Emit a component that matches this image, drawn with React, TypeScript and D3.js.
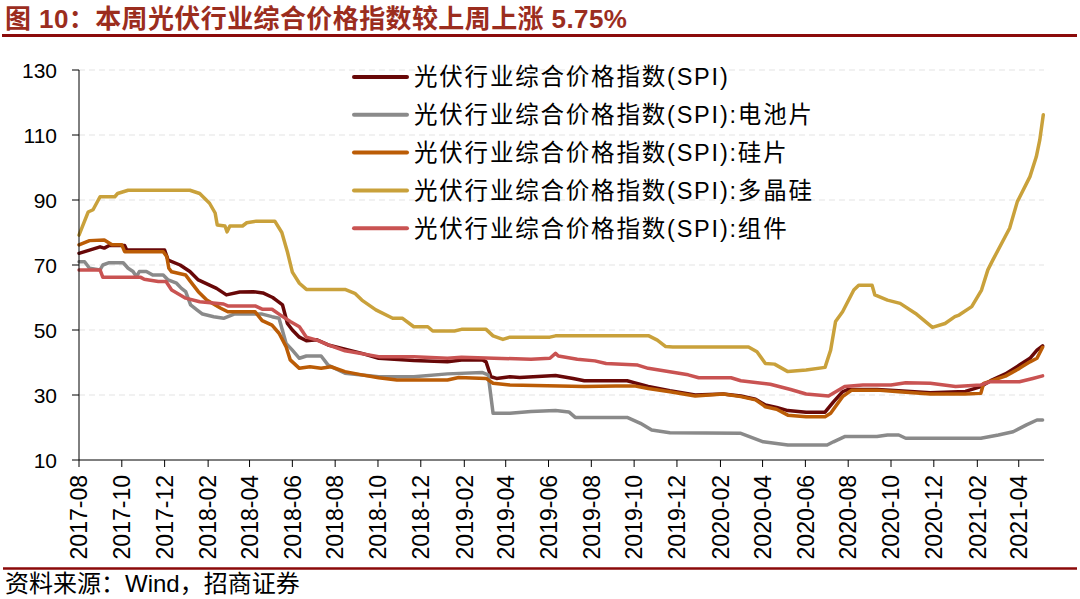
import * as d3 from 'd3'

// 光伏行业综合价格指数(SPI) — values, [date, value]
const spiData: [string, number][] = [
  ['2017-08-01', 73.6], ['2017-08-16', 74.6], ['2017-08-31', 75.6], ['2017-09-06', 75.2], ['2017-09-13', 76],
  ['2017-10-05', 76], ['2017-10-08', 74.6], ['2017-12-01', 74.6], ['2017-12-06', 71.5], ['2017-12-23', 70],
  ['2018-01-06', 68], ['2018-01-18', 65.4], ['2018-02-03', 63.8], ['2018-02-13', 62.8], ['2018-02-27', 60.8],
  ['2018-03-18', 61.7], ['2018-04-06', 61.8], ['2018-04-20', 61.4], ['2018-05-04', 60], ['2018-05-09', 59.2],
  ['2018-05-18', 57.7], ['2018-05-25', 52], ['2018-06-01', 50], ['2018-06-11', 47.8], ['2018-06-21', 46.7],
  ['2018-07-06', 47], ['2018-07-22', 45.4], ['2018-08-15', 44.1], ['2018-09-08', 42.8], ['2018-10-02', 41.3],
  ['2018-11-21', 40.6], ['2019-01-08', 40.2], ['2019-01-28', 40.8], ['2019-02-27', 40.8], ['2019-03-04', 40.2],
  ['2019-03-11', 35.6], ['2019-03-19', 35.1], ['2019-04-07', 35.6], ['2019-04-21', 35.4], ['2019-06-11', 36],
  ['2019-07-06', 35.1], ['2019-07-22', 34.4], ['2019-09-21', 34.4], ['2019-10-01', 33.8], ['2019-10-21', 32.6],
  ['2019-11-21', 31.3], ['2019-12-27', 30], ['2020-02-05', 30.3], ['2020-03-01', 29.7], ['2020-03-22', 28.7],
  ['2020-04-05', 26.9], ['2020-04-21', 26.2], ['2020-05-07', 25.2], ['2020-06-02', 24.7], ['2020-06-29', 24.7],
  ['2020-07-11', 27.9], ['2020-07-24', 31], ['2020-08-01', 31.7], ['2020-09-11', 31.7], ['2020-10-12', 31.3],
  ['2020-11-26', 30.7], ['2021-01-15', 31.1], ['2021-02-06', 32.6], ['2021-02-20', 34.4], ['2021-03-13', 36.5],
  ['2021-04-02', 39.2], ['2021-04-17', 41.3], ['2021-04-27', 43.8], ['2021-05-05', 45.1],
]

// 电池片
const cellData: [string, number][] = [
  ['2017-08-01', 71], ['2017-08-09', 71], ['2017-08-16', 69], ['2017-08-31', 68.5], ['2017-09-04', 70],
  ['2017-09-13', 70.7], ['2017-10-03', 70.7], ['2017-10-10', 69], ['2017-10-17', 68], ['2017-10-22', 66.4],
  ['2017-10-26', 68], ['2017-11-05', 68], ['2017-11-14', 66.9], ['2017-11-29', 66.9], ['2017-12-06', 65.4],
  ['2017-12-18', 64.4], ['2017-12-25', 62.8], ['2017-12-31', 61.8], ['2018-01-07', 57.7], ['2018-01-16', 56.2],
  ['2018-01-24', 54.9], ['2018-02-09', 54.1], ['2018-02-23', 53.6], ['2018-03-10', 54.9], ['2018-04-19', 54.9],
  ['2018-05-03', 54.1], ['2018-05-13', 53.6], ['2018-05-23', 45.9], ['2018-06-01', 43.8], ['2018-06-11', 41.3],
  ['2018-06-21', 42], ['2018-07-12', 42], ['2018-07-22', 39.2], ['2018-08-15', 36.7], ['2018-10-02', 35.6],
  ['2018-11-21', 35.6], ['2019-01-08', 36.5], ['2019-02-27', 36.9], ['2019-03-07', 36.2], ['2019-03-14', 24.4],
  ['2019-04-07', 24.4], ['2019-05-07', 24.9], ['2019-06-11', 25.2], ['2019-06-30', 24.8], ['2019-07-09', 23.1],
  ['2019-09-21', 23.1], ['2019-10-10', 21.3], ['2019-10-26', 19.2], ['2019-11-21', 18.4], ['2020-03-01', 18.2],
  ['2020-04-02', 15.6], ['2020-05-07', 14.6], ['2020-07-02', 14.6], ['2020-07-11', 15.6], ['2020-07-27', 17.2],
  ['2020-09-11', 17.2], ['2020-09-26', 17.7], ['2020-10-12', 17.7], ['2020-10-22', 16.7], ['2021-02-06', 16.7],
  ['2021-03-03', 17.7], ['2021-03-24', 18.7], ['2021-04-12', 20.8], ['2021-04-27', 22.3], ['2021-05-05', 22.3],
]

// 硅片
const waferData: [string, number][] = [
  ['2017-08-01', 76.2], ['2017-08-16', 77.5], ['2017-09-06', 77.7], ['2017-09-17', 76.2], ['2017-10-01', 76.2],
  ['2017-10-05', 74.1], ['2017-11-29', 74.1], ['2017-12-04', 72.6], ['2017-12-07', 69], ['2017-12-11', 67.9],
  ['2017-12-31', 66.9], ['2018-01-07', 64.9], ['2018-01-18', 61.8], ['2018-01-30', 59.2], ['2018-02-19', 56.7],
  ['2018-03-01', 55.6], ['2018-04-09', 55.6], ['2018-04-19', 52.9], ['2018-05-03', 51.5], ['2018-05-13', 49],
  ['2018-05-23', 44.9], ['2018-05-29', 40.8], ['2018-06-11', 38.2], ['2018-06-26', 38.7], ['2018-07-12', 38.2],
  ['2018-07-26', 38.7], ['2018-08-15', 37.2], ['2018-09-08', 36.2], ['2018-10-02', 35.3], ['2018-10-28', 34.6],
  ['2019-01-08', 34.6], ['2019-01-24', 35.4], ['2019-03-04', 35.1], ['2019-03-14', 33.6], ['2019-04-07', 33.1],
  ['2019-07-22', 32.6], ['2019-09-05', 32.8], ['2019-10-01', 32.8], ['2019-10-21', 32], ['2019-11-21', 31],
  ['2019-12-27', 29.7], ['2020-02-05', 30.3], ['2020-03-01', 29.5], ['2020-03-22', 28.5], ['2020-04-05', 26.4],
  ['2020-04-21', 25.6], ['2020-05-07', 23.8], ['2020-06-02', 23.3], ['2020-06-29', 23.3], ['2020-07-07', 24.4],
  ['2020-07-24', 29.5], ['2020-08-06', 31.5], ['2020-09-11', 31.5], ['2020-10-12', 31], ['2020-11-26', 30.3],
  ['2021-01-15', 30.3], ['2021-02-06', 30.5], ['2021-02-10', 33.6], ['2021-03-13', 35.8], ['2021-04-02', 38.2],
  ['2021-04-17', 40.2], ['2021-04-27', 41.3], ['2021-05-05', 44.7],
]

// 多晶硅
const polyData: [string, number][] = [
  ['2017-08-01', 79.2], ['2017-08-14', 86.3], ['2017-08-21', 87], ['2017-08-31', 91], ['2017-09-21', 91],
  ['2017-09-25', 92], ['2017-10-10', 93], ['2018-01-06', 93], ['2018-01-20', 92], ['2018-02-03', 89],
  ['2018-02-11', 86], ['2018-02-14', 82.3], ['2018-02-25', 82], ['2018-02-28', 80.2], ['2018-03-04', 82],
  ['2018-03-22', 82], ['2018-03-28', 83], ['2018-04-11', 83.5], ['2018-05-07', 83.5], ['2018-05-17', 80],
  ['2018-05-25', 74], ['2018-06-01', 67.8], ['2018-06-11', 64.4], ['2018-06-21', 62.5], ['2018-08-15', 62.5],
  ['2018-08-29', 61.3], ['2018-09-08', 59.2], ['2018-09-28', 56.2], ['2018-10-22', 53.6], ['2018-11-05', 53.6],
  ['2018-11-21', 51], ['2018-12-11', 51], ['2018-12-18', 49.7], ['2019-01-18', 49.7], ['2019-01-28', 50.2],
  ['2019-03-04', 50.2], ['2019-03-14', 48.2], ['2019-03-28', 47.1], ['2019-04-07', 47.8], ['2019-06-03', 47.8],
  ['2019-06-11', 48.2], ['2019-10-22', 48.2], ['2019-11-03', 46.9], ['2019-11-15', 44.9], ['2019-11-25', 44.8],
  ['2020-03-12', 44.8], ['2020-03-24', 43.3], ['2020-04-05', 39.7], ['2020-04-18', 39.5], ['2020-05-07', 37.2],
  ['2020-06-02', 37.7], ['2020-06-29', 38.5], ['2020-07-07', 43.8], ['2020-07-14', 52.6], ['2020-07-24', 55.6],
  ['2020-08-09', 62.3], ['2020-08-16', 63.8], ['2020-09-04', 63.8], ['2020-09-08', 60.8], ['2020-09-26', 59.2],
  ['2020-10-14', 58.2], ['2020-11-05', 55.1], ['2020-11-29', 50.8], ['2020-12-17', 52], ['2020-12-31', 54.1],
  ['2021-01-06', 54.6], ['2021-01-24', 57.2], ['2021-02-07', 62.3], ['2021-02-16', 68.5], ['2021-02-23', 71.5],
  ['2021-03-19', 81.3], ['2021-03-30', 89.5], ['2021-04-17', 97.2], ['2021-04-26', 103.3], ['2021-05-01', 108.5],
  ['2021-05-06', 116.2],
]

// 组件
const moduleData: [string, number][] = [
  ['2017-08-01', 68.5], ['2017-08-31', 68.5], ['2017-09-04', 66.2], ['2017-10-28', 66.2], ['2017-11-02', 65.6],
  ['2017-11-22', 64.9], ['2017-12-03', 64.9], ['2017-12-11', 62.3], ['2017-12-31', 59.8], ['2018-01-20', 58.7],
  ['2018-02-23', 58], ['2018-03-01', 57.4], ['2018-04-09', 57.4], ['2018-04-19', 56.4], ['2018-05-03', 56.4],
  ['2018-05-13', 54.9], ['2018-05-29', 52.6], ['2018-06-11', 51], ['2018-06-21', 47.8], ['2018-07-06', 46.9],
  ['2018-07-22', 45.4], ['2018-08-15', 43.6], ['2018-10-02', 41.8], ['2018-11-21', 41.8], ['2019-01-08', 41.3],
  ['2019-01-28', 41.6], ['2019-05-07', 41], ['2019-06-03', 41.3], ['2019-06-11', 42.8], ['2019-06-15', 42],
  ['2019-07-12', 41], ['2019-08-06', 40.5], ['2019-08-22', 39.7], ['2019-10-06', 39.2], ['2019-10-21', 38.2],
  ['2019-12-17', 36.2], ['2020-01-01', 35.3], ['2020-02-16', 35.3], ['2020-03-01', 34.4], ['2020-04-12', 33.3],
  ['2020-05-11', 31.7], ['2020-06-02', 30.3], ['2020-07-04', 29.7], ['2020-07-27', 32.6], ['2020-08-22', 33.1],
  ['2020-10-01', 33.1], ['2020-10-22', 33.8], ['2020-11-26', 33.6], ['2021-01-01', 32.6], ['2021-02-06', 33.1],
  ['2021-02-20', 34.1], ['2021-04-02', 34.1], ['2021-04-21', 35.1], ['2021-05-05', 35.9],
]

const seriesNames = [
  '光伏行业综合价格指数(SPI)',
  '光伏行业综合价格指数(SPI):电池片',
  '光伏行业综合价格指数(SPI):硅片',
  '光伏行业综合价格指数(SPI):多晶硅',
  '光伏行业综合价格指数(SPI):组件',
]
const seriesColors = ['#680808', '#8a8a8a', '#bb5c06', '#c9a13b', '#c95352']
const yTicks = [10, 30, 50, 70, 90, 110, 130]

const title = '图 10：本周光伏行业综合价格指数较上周上涨 5.75%'
const source = '资料来源：Wind，招商证券'

const W = 1080
const H = 599
const margin = { left: 79, right: 1044, top: 70, bottom: 460 }
const FONT = '"Liberation Sans", Arial, "Noto Sans CJK SC", sans-serif'

const parse = d3.timeParse('%Y-%m-%d')

export default function App() {
  const x = d3.scaleTime()
    .domain([parse('2017-08-01')!, parse('2021-05-07')!])
    .range([margin.left, margin.right])
  const y = d3.scaleLinear().domain([10, 130]).range([margin.bottom, margin.top])

  const line = d3.line<[string, number]>()
    .x(d => x(parse(d[0])!))
    .y(d => y(d[1]))

  const allSeries = [spiData, cellData, waferData, polyData, moduleData]
  const xTicks = d3.timeMonth.range(parse('2017-08-01')!, parse('2021-04-02')!, 2)
  const fmt = d3.timeFormat('%Y-%m')

  return (
    <div style={{ position: 'absolute', left: 0, top: 0 }}>
      <svg width={W} height={H} style={{ display: 'block', background: '#fff' }} fontFamily={FONT}>
        {/* title */}
        <text x={5} y={28} fontSize={26} fontWeight="bold" fill="#9b2d1e" letterSpacing={0.4}>{title}</text>
        <line x1={2} x2={1077} y1={35.5} y2={35.5} stroke="#8b0a0a" strokeWidth={3} />

        {/* gridlines */}
        {yTicks.filter(t => t > 10).map(t => (
          <line key={t} x1={margin.left} x2={margin.right} y1={y(t)} y2={y(t)}
            stroke="#e3e3e3" strokeWidth={1} strokeDasharray="6,4" />
        ))}

        {/* series */}
        {allSeries.map((s, i) => (
          <path key={i} d={line(s)!} fill="none" stroke={seriesColors[i]} strokeWidth={3.5}
            strokeLinejoin="round" strokeLinecap="round" />
        ))}

        {/* y axis */}
        <line x1={margin.left} x2={margin.left} y1={margin.top} y2={margin.bottom} stroke="#000" strokeWidth={1} />
        {yTicks.map(t => (
          <g key={t}>
            <line x1={margin.left - 7} x2={margin.left} y1={y(t)} y2={y(t)} stroke="#000" strokeWidth={1} />
            <text x={57} y={y(t)} dy="0.36em" textAnchor="end" fontSize={21} fill="#000">{t}</text>
          </g>
        ))}

        {/* x axis */}
        <line x1={margin.left} x2={margin.right} y1={margin.bottom} y2={margin.bottom} stroke="#000" strokeWidth={1} />
        {xTicks.map(d => (
          <g key={+d} transform={`translate(${x(d)},${margin.bottom})`}>
            <line y1={0} y2={7} stroke="#000" strokeWidth={1} />
            <text transform="translate(0,15) rotate(-90)" dy="0.36em" textAnchor="end" fontSize={23} fill="#000">
              {fmt(d)}
            </text>
          </g>
        ))}

        {/* legend */}
        {seriesNames.map((n, i) => (
          <g key={n} transform={`translate(353,${77 + i * 37.8})`}>
            <line x1={1} x2={54} y1={0} y2={0} stroke={seriesColors[i]} strokeWidth={4} strokeLinecap="round" />
            <text x={61} y={0} dy="0.36em" fontSize={23.5} letterSpacing={1.8} fill="#000">{n}</text>
          </g>
        ))}

        {/* source */}
        <line x1={3} x2={1077} y1={568.5} y2={568.5} stroke="#8b0a0a" strokeWidth={2.5} />
        <text x={5} y={592} fontSize={24} fill="#000">{source}</text>
      </svg>
    </div>
  )
}
